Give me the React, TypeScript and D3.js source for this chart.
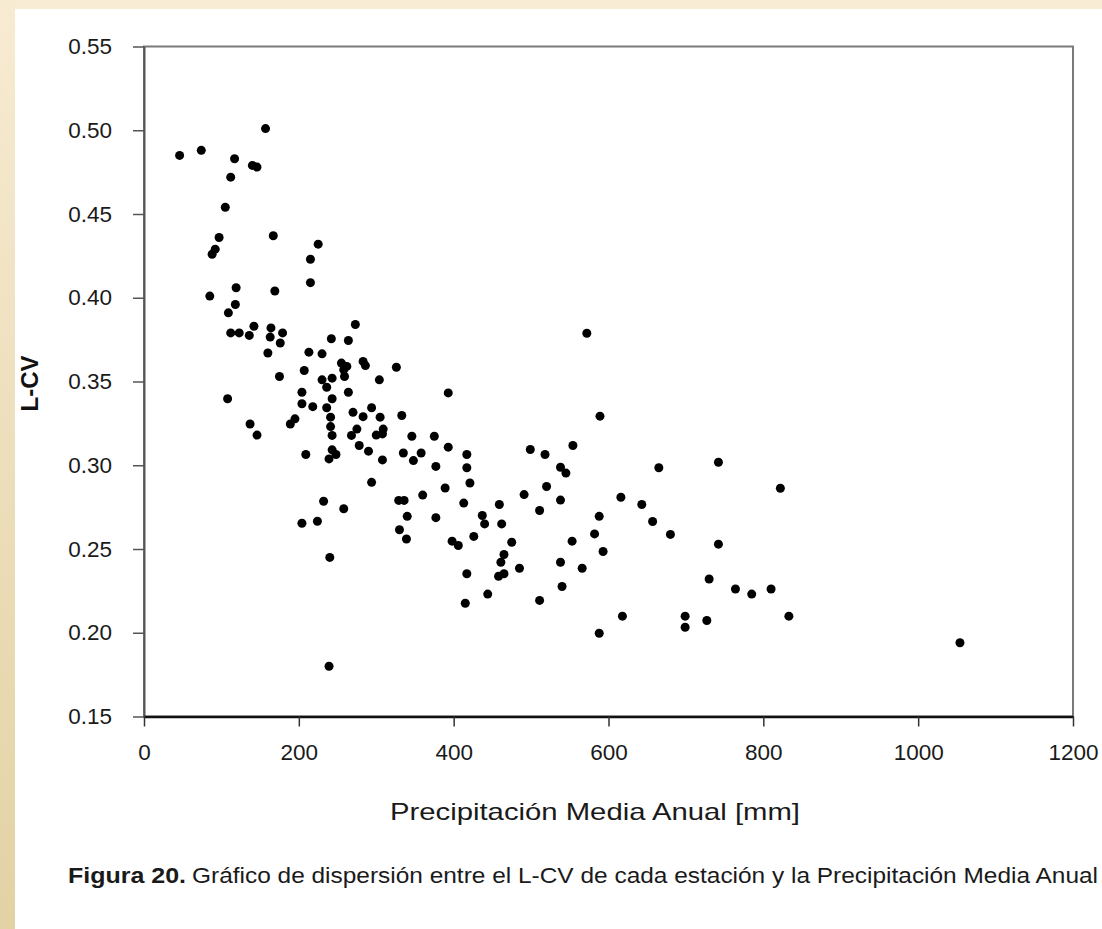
import {useEffect, useRef} from 'react';
import * as d3 from 'd3';

// Precipitación media anual [mm]
const precip = [
  46, 74, 117, 157, 140, 146, 112, 105, 97, 92, 88, 167, 225, 215, 215, 119, 169, 85,
  118, 109, 112, 123, 136, 142, 164, 163, 179, 176, 242, 264, 160, 273, 213, 230,
  255, 258, 259, 262, 283, 286, 326, 207, 175, 230, 243, 236, 304, 204, 264, 243,
  108, 204, 218, 236, 270, 294, 283, 305, 333, 241, 241, 195, 189, 137, 146, 243,
  275, 268, 300, 308, 309, 278, 290, 346, 243, 248, 239, 209, 308, 335, 348, 358,
  294, 232, 258, 204, 224, 329, 336, 360, 340, 330, 339, 393, 375, 393, 377, 417,
  417, 421, 389, 377, 413, 459, 437, 440, 462, 398, 406, 426, 475, 465, 461, 465,
  458, 485, 417, 415, 444, 511, 499, 518, 554, 589, 538, 545, 491, 520, 538, 511,
  588, 616, 643, 657, 680, 665, 582, 593, 553, 538, 566, 540, 618, 588, 572, 742,
  822, 742, 730, 764, 785, 810, 699, 699, 727, 833, 1054, 239, 240
];

// L-CV de cada estación
const lcv = [
  0.485, 0.488, 0.483, 0.501, 0.479, 0.478, 0.472, 0.454, 0.436, 0.429, 0.426, 0.437, 0.432, 0.423, 0.409, 0.406, 0.404, 0.401,
  0.396, 0.391, 0.379, 0.379, 0.3775, 0.383, 0.382, 0.3765, 0.379, 0.373, 0.3755, 0.3745, 0.367, 0.384, 0.3675, 0.3665,
  0.361, 0.357, 0.353, 0.359, 0.362, 0.3595, 0.3585, 0.3566, 0.353, 0.351, 0.352, 0.3466, 0.351, 0.3436, 0.3436, 0.3397,
  0.3397, 0.3367, 0.335, 0.3343, 0.3316, 0.3343, 0.329, 0.3287, 0.3297, 0.3287, 0.3231, 0.3277, 0.3246, 0.3246, 0.318, 0.3178,
  0.3216, 0.3178, 0.318, 0.3187, 0.3216, 0.3118, 0.3084, 0.3173, 0.3092, 0.3064, 0.3038, 0.3064, 0.3032, 0.3073, 0.3028, 0.3073,
  0.2898, 0.2785, 0.274, 0.2654, 0.2666, 0.279, 0.279, 0.2822, 0.2695, 0.2615, 0.256, 0.3432, 0.3173, 0.3108, 0.2993, 0.3064,
  0.2985, 0.2894, 0.2864, 0.2687, 0.2774, 0.2766, 0.27, 0.265, 0.265, 0.2547, 0.2521, 0.2575, 0.254, 0.2467, 0.2421, 0.2352,
  0.2337, 0.2385, 0.2352, 0.2176, 0.2231, 0.2193, 0.3094, 0.3064, 0.3118, 0.3293, 0.2988, 0.2953, 0.2825, 0.2873, 0.2792, 0.273,
  0.2695, 0.2809, 0.2766, 0.2664, 0.2587, 0.2985, 0.259, 0.2485, 0.2547, 0.2421, 0.2385, 0.2276, 0.2099, 0.1997, 0.3788, 0.3018,
  0.2863, 0.2529, 0.2321, 0.2261, 0.2231, 0.2261, 0.2099, 0.2033, 0.2073, 0.2099, 0.194, 0.18, 0.245
];

const xTicks = [0, 200, 400, 600, 800, 1000, 1200];
const yTicks = [0.15, 0.2, 0.25, 0.3, 0.35, 0.4, 0.45, 0.5, 0.55];

const W = 1102;
const H = 929;
const FONT = '"Liberation Sans", Arial, sans-serif';

const ScatterChart = () => {
  const svgRef = useRef<SVGSVGElement>(null);

  useEffect(() => {
    const svg = d3.select(svgRef.current).attr('width', W).attr('height', H);
    svg.selectAll('*').remove();

    // page background: cream frame around a white sheet
    const defs = svg.append('defs');
    const grad = defs.append('linearGradient')
      .attr('id', 'strip').attr('x1', 0).attr('y1', 0).attr('x2', 0).attr('y2', 1);
    grad.append('stop').attr('offset', '0%').attr('stop-color', '#f7ebd2');
    grad.append('stop').attr('offset', '100%').attr('stop-color', '#e2d2a4');

    svg.append('rect').attr('width', W).attr('height', H).attr('fill', '#ffffff');
    svg.append('rect').attr('width', W).attr('height', 9).attr('fill', '#f8ecd4');
    svg.append('rect').attr('width', 15).attr('height', H).attr('fill', 'url(#strip)');

    const xScale = d3.scaleLinear().domain([0, 1200]).range([144, 1073]);
    const yScale = d3.scaleLinear().domain([0.15, 0.55]).range([716.5, 46.5]);

    // plot frame (top/right in grey)
    svg.append('rect')
      .attr('x', xScale(0)).attr('y', yScale(0.55))
      .attr('width', xScale(1200) - xScale(0))
      .attr('height', yScale(0.15) - yScale(0.55))
      .attr('fill', 'none')
      .attr('stroke', '#7a7a7a')
      .attr('stroke-width', 2);

    const yAxis = d3.axisLeft(yScale)
      .tickValues(yTicks)
      .tickFormat(d3.format('.2f'))
      .tickSize(11)
      .tickSizeOuter(0)
      .tickPadding(21);

    const gy = svg.append('g')
      .attr('transform', `translate(${xScale(0)},0)`)
      .call(yAxis);
    gy.select('.domain').attr('stroke', '#555').attr('stroke-width', 2);
    gy.selectAll('.tick line').attr('stroke', '#555').attr('stroke-width', 1.5);
    gy.selectAll('.tick text')
      .style('font-family', FONT)
      .style('font-size', '22.5px')
      .attr('fill', '#1a1a1a');

    const xAxis = d3.axisBottom(xScale)
      .tickValues(xTicks)
      .tickFormat(d3.format('d'))
      .tickSize(10)
      .tickSizeOuter(0)
      .tickPadding(18);

    const gx = svg.append('g')
      .attr('transform', `translate(0,${yScale(0.15)})`)
      .call(xAxis);
    gx.select('.domain').attr('stroke', '#111').attr('stroke-width', 2.5);
    gx.selectAll('.tick line').attr('stroke', '#333').attr('stroke-width', 1.5);
    gx.selectAll('.tick text')
      .style('font-family', FONT)
      .style('font-size', '22.5px')
      .attr('fill', '#1a1a1a');

    // points
    svg.append('g')
      .selectAll('circle')
      .data(precip.map((p, i) => ({p, v: lcv[i]})))
      .enter().append('circle')
      .attr('cx', d => xScale(d.p))
      .attr('cy', d => yScale(d.v))
      .attr('r', 4.5)
      .attr('fill', '#000');

    // axis titles
    svg.append('text')
      .attr('x', 595)
      .attr('y', 820)
      .attr('text-anchor', 'middle')
      .attr('textLength', 410)
      .attr('lengthAdjust', 'spacingAndGlyphs')
      .style('font-family', FONT)
      .style('font-size', '24px')
      .attr('fill', '#1a1a1a')
      .text('Precipitación Media Anual [mm]');

    svg.append('text')
      .attr('transform', `translate(38, ${383.5}) rotate(-90)`)
      .attr('text-anchor', 'middle')
      .style('font-family', FONT)
      .style('font-size', '24px')
      .style('font-weight', 'bold')
      .attr('fill', '#111')
      .text('L-CV');

    // figure caption
    const cap = svg.append('text')
      .attr('y', 883)
      .style('font-family', FONT)
      .style('font-size', '22px')
      .attr('fill', '#1a1a1a');
    cap.append('tspan')
      .attr('x', 68)
      .attr('textLength', 118)
      .attr('lengthAdjust', 'spacingAndGlyphs')
      .style('font-weight', 'bold')
      .text('Figura 20.');
    cap.append('tspan')
      .attr('x', 192)
      .attr('textLength', 906)
      .attr('lengthAdjust', 'spacingAndGlyphs')
      .text('Gráfico de dispersión entre el L-CV de cada estación y la Precipitación Media Anual');
  }, []);

  return <svg ref={svgRef} style={{display: 'block'}} />;
};

export default function App() {
  return (
    <div style={{position: 'absolute', left: 0, top: 0}}>
      <ScatterChart />
    </div>
  );
}
